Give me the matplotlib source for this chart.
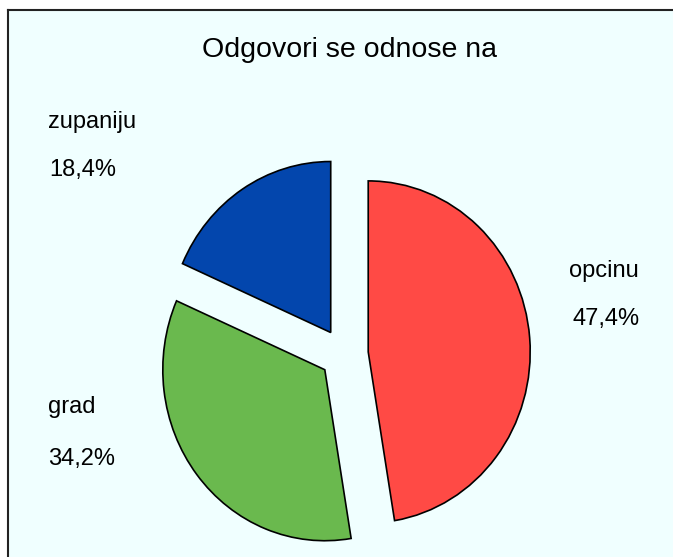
import matplotlib
matplotlib.use("Agg")
import matplotlib.pyplot as plt
from matplotlib.patches import Rectangle
from matplotlib.lines import Line2D

# data
categories = ["opcinu", "grad", "zupaniju"]
shares = [47.4, 34.2, 18.4]
share_labels = ["47,4%", "34,2%", "18,4%"]
colors = ["#FF4A45", "#6AB94E", "#0346AD"]
title = "Odgovori se odnose na"

W, H = 673, 557
fig = plt.figure(figsize=(W / 100, H / 100), dpi=100, facecolor="white")
plt.rcParams["font.family"] = ["Liberation Sans", "DejaVu Sans"]

# panel background with left and top border
fig.add_artist(Rectangle((8 / W, 0), (W - 8) / W, (H - 10) / H, transform=fig.transFigure,
                         facecolor="#F0FFFF", edgecolor="none", zorder=0))
fig.add_artist(Line2D([8 / W, 8 / W], [0, 1 - 10 / H], transform=fig.transFigure, color="#222222", lw=1.5))
fig.add_artist(Line2D([8 / W, 1], [1 - 10 / H, 1 - 10 / H], transform=fig.transFigure, color="#222222", lw=1.5))

# pie axes, slightly taller than wide like the original
cx, cy = 344, 354
rx, ry = 162, 171
lim = 1.4
ax = fig.add_axes([(cx - lim * rx) / W, (H - cy - lim * ry) / H, 2 * lim * rx / W, 2 * lim * ry / H])
ax.set_facecolor("none")
wedges, _ = ax.pie(shares, colors=colors, startangle=90, counterclock=False,
                   explode=[0.15] * 3, wedgeprops=dict(edgecolor="black", linewidth=1.2))
for w in wedges:
    w.set_clip_on(False)
ax.set_aspect("auto")
ax.set_xlim(-lim, lim)
ax.set_ylim(-lim, lim)
ax.axis("off")

def px(x, y):
    return x / W, 1 - y / H

fig.text(*px(349, 57), title, ha="center", va="baseline", fontsize=20.5)

label_pos = [(604, 277, 606, 325, "center"), (48, 128, 49, 176, "left"), (48, 413, 48, 465, "left")]
label_pos = [label_pos[0], label_pos[2], label_pos[1]]
for cat, lab, (x1, y1, x2, y2, ha) in zip(categories, share_labels, label_pos):
    fig.text(*px(x1, y1), cat, ha=ha, va="baseline", fontsize=17)
    fig.text(*px(x2, y2), lab, ha=ha, va="baseline", fontsize=17)

fig.savefig("out.png", dpi=100)
